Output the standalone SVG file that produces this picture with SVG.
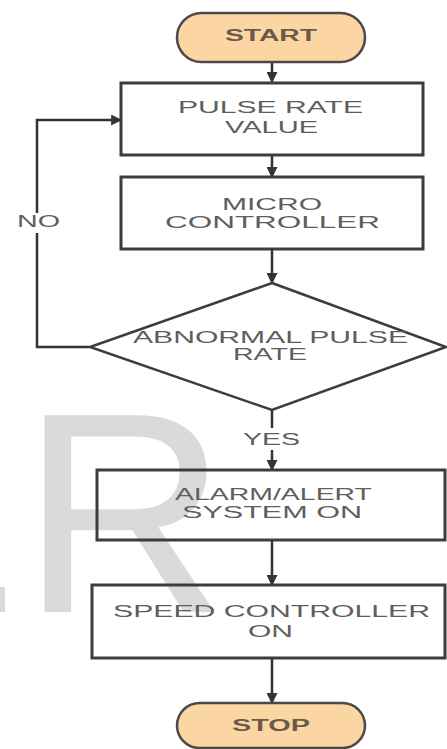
<svg xmlns="http://www.w3.org/2000/svg" width="447" height="749" viewBox="0 0 447 749">
<style>
.bg{fill:#ffffff}
.wm{fill:#dadada;font-family:"Liberation Sans",Arial,sans-serif;font-size:286px}
.term{fill:#fcd6a2;stroke:#4a4a4a;stroke-width:2.5}
.box{fill:none;stroke:#3c3c3c;stroke-width:3}
.dia{fill:none;stroke:#3c3c3c;stroke-width:2.5}
.lbl{fill:#5e5e5e;font-family:"Liberation Sans",Arial,sans-serif;font-size:16px;text-anchor:start}
.tlbl{fill:#6a5a4c;font-family:"Liberation Sans",Arial,sans-serif;font-size:16px;font-weight:bold}
.ln{fill:none;stroke:#333333;stroke-width:2.5}
</style>
<defs>
<marker id="ah" viewBox="0 0 10 10" refX="9" refY="5" markerWidth="4.4" markerHeight="4.4" orient="auto" markerUnits="strokeWidth">
<path d="M0,0 L10,5 L0,10 Z" fill="#333333"/>
</marker>
</defs>
<rect class="bg" x="0" y="0" width="447" height="749"/>
<g id="watermark">
<text class="wm" x="21" y="612">R</text>
<rect x="0" y="587" width="5" height="25" fill="#dadada"/>
</g>
<g id="connectors">
<path class="ln" d="M272,62 L272,82" marker-end="url(#ah)"/>
<path class="ln" d="M272,155 L272,177" marker-end="url(#ah)"/>
<path class="ln" d="M272,249 L272,283" marker-end="url(#ah)"/>
<path class="ln" d="M90,347 L37,347 L37,233"/>
<path class="ln" d="M37,213 L37,120 L121,120" marker-end="url(#ah)"/>
<path class="ln" d="M272,410 L272,428"/>
<path class="ln" d="M272,450 L272,470" marker-end="url(#ah)"/>
<path class="ln" d="M272,540 L272,585" marker-end="url(#ah)"/>
<path class="ln" d="M272,658 L272,703" marker-end="url(#ah)"/>
<text class="lbl" x="17" y="227" textLength="43" lengthAdjust="spacingAndGlyphs">NO</text>
<text class="lbl" x="243" y="445" textLength="57" lengthAdjust="spacingAndGlyphs">YES</text>
</g>
<g id="start">
<rect class="term" x="177" y="13" width="188" height="49" rx="24.5" ry="24.5"/>
<text class="tlbl" x="225" y="41" textLength="92" lengthAdjust="spacingAndGlyphs">START</text>
</g>
<g id="pulse">
<rect class="box" x="121" y="83" width="302" height="72"/>
<text class="lbl" x="178" y="113" textLength="185" lengthAdjust="spacingAndGlyphs">PULSE RATE</text>
<text class="lbl" x="225" y="133" textLength="93" lengthAdjust="spacingAndGlyphs">VALUE</text>
</g>
<g id="micro">
<rect class="box" x="121" y="177" width="302" height="72"/>
<text class="lbl" x="222" y="210" textLength="100" lengthAdjust="spacingAndGlyphs">MICRO</text>
<text class="lbl" x="165" y="228" textLength="215" lengthAdjust="spacingAndGlyphs">CONTROLLER</text>
</g>
<g id="decision">
<path class="dia" d="M272,283 L446,347 L272,410 L90,347 Z"/>
<text class="lbl" x="133" y="343" textLength="275" lengthAdjust="spacingAndGlyphs">ABNORMAL PULSE</text>
<text class="lbl" x="233" y="360" textLength="74" lengthAdjust="spacingAndGlyphs">RATE</text>
</g>
<g id="alarm">
<rect class="box" x="97" y="470" width="348" height="70"/>
<text class="lbl" x="175" y="500" textLength="197" lengthAdjust="spacingAndGlyphs">ALARM/ALERT</text>
<text class="lbl" x="182" y="518" textLength="180" lengthAdjust="spacingAndGlyphs">SYSTEM ON</text>
</g>
<g id="speed">
<rect class="box" x="92" y="585" width="353" height="73"/>
<text class="lbl" x="113" y="617" textLength="317" lengthAdjust="spacingAndGlyphs">SPEED CONTROLLER</text>
<text class="lbl" x="248" y="637" textLength="45" lengthAdjust="spacingAndGlyphs">ON</text>
</g>
<g id="stop">
<rect class="term" x="177" y="703" width="188" height="45" rx="22.5" ry="22.5"/>
<text class="tlbl" x="232" y="731" textLength="78" lengthAdjust="spacingAndGlyphs">STOP</text>
</g>
</svg>
